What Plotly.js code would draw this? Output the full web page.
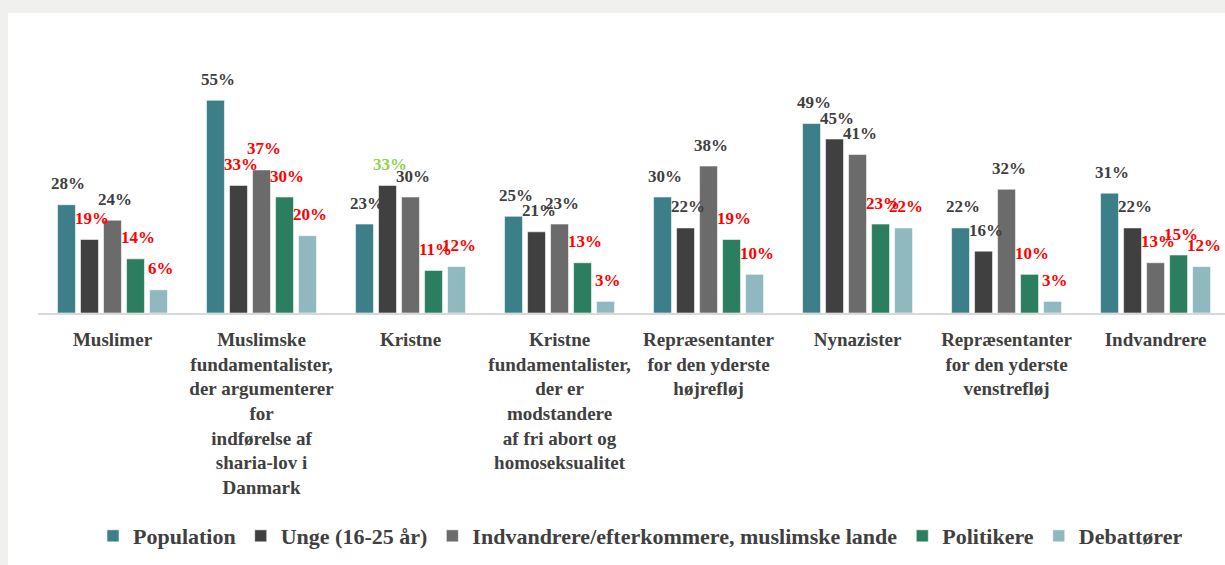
<!DOCTYPE html>
<html>
<head>
<meta charset="utf-8">
<script src="https://cdn.plot.ly/plotly-3.0.1.min.js"></script>
<style>
  html, body { margin: 0; padding: 0; background: #f0f0ef; }
  #chart { margin-left: 8px; margin-top: 13px; width: 1217px; height: 552px; background: #ffffff; }
</style>
</head>
<body>
<div id="chart"></div>
<script>
// ---- data ----
const categories = [
  "Muslimer",
  "Muslimske<br>fundamentalister,<br>der argumenterer<br>for<br>indførelse af<br>sharia-lov i<br>Danmark",
  "Kristne",
  "Kristne<br>fundamentalister,<br>der er<br>modstandere<br>af fri abort og<br>homoseksualitet",
  "Repræsentanter<br>for den yderste<br>højrefløj",
  "Nynazister",
  "Repræsentanter<br>for den yderste<br>venstrefløj",
  "Indvandrere"
];
const seriesNames = ["Population", "Unge (16-25 år)", "Indvandrere/efterkommere, muslimske lande", "Politikere", "Debattører"];
const population   = [28, 55, 23, 25, 30, 49, 22, 31];
const unge         = [19, 33, 33, 21, 22, 45, 16, 22];
const indvandrere  = [24, 37, 30, 23, 38, 41, 32, 13];
const politikere   = [14, 30, 11, 13, 19, 23, 10, 15];
const debattoerer  = [6, 20, 12, 3, 10, 22, 3, 12];
// label colour keys: d = dark, r = red, g = green
const populationLabel  = ["d","d","d","d","d","d","d","d"];
const ungeLabel        = ["r","r","g","d","d","d","d","d"];
const indvandrereLabel = ["d","r","d","d","d","d","d","r"];
const politikereLabel  = ["r","r","r","r","r","r","r","r"];
const debattoererLabel = ["r","r","r","r","r","r","r","r"];

// ---- styles ----
const barColors = ["#3d7f89", "#404040", "#6b6b6b", "#2c7e60", "#8fb8bf"];
const labelColorMap = { d: "#404040", r: "#ff0000", g: "#92d050" };
const FAMILY = "Liberation Serif";
const bargap = 0.228;

const values = [population, unge, indvandrere, politikere, debattoerer];
const labels = [populationLabel, ungeLabel, indvandrereLabel, politikereLabel, debattoererLabel];
const xIdx = categories.map((c, i) => i);

const traces = values.map((vals, j) => ({
  type: "bar",
  name: seriesNames[j],
  x: xIdx,
  y: vals,
  marker: { color: barColors[j], line: { color: "rgba(255,255,255,0.55)", width: 1 } },
  hoverinfo: "skip"
}));

const n = values.length;
const slot = (1 - bargap) / n;
const annotations = [];
values.forEach((vals, j) => {
  vals.forEach((v, i) => {
    annotations.push({
      x: i + (j - (n - 1) / 2) * slot,
      y: v,
      xref: "x", yref: "y",
      text: v + "%",
      showarrow: false,
      yanchor: "middle",
      xanchor: "center",
      yshift: 21,
      xshift: 2,
      font: { family: FAMILY, size: 17, weight: "bold", color: labelColorMap[labels[j][i]] }
    });
  });
});

const layout = {
  width: 1217,
  height: 552,
  font: { family: FAMILY, weight: "bold", color: "#404040" },
  paper_bgcolor: "#ffffff",
  plot_bgcolor: "#ffffff",
  margin: { l: 30, r: 0, t: 68, b: 252 },
  barmode: "group",
  bargap: bargap,
  bargroupgap: 0.22,
  showlegend: true,
  legend: {
    orientation: "h",
    x: 0.5076, xanchor: "center",
    yref: "container", y: 0.0525, yanchor: "middle",
    font: { family: FAMILY, size: 22, weight: "bold", color: "#404040" },
    itemwidth: 30,
    traceorder: "normal"
  },
  xaxis: {
    type: "linear",
    range: [-0.5, 7.466],
    tickmode: "array",
    tickvals: xIdx,
    ticktext: categories,
    ticks: "",
    ticklabelstandoff: 8,
    showgrid: false,
    zeroline: false,
    showline: true,
    linecolor: "#d9d9d9",
    linewidth: 2,
    tickfont: { family: FAMILY, size: 19, weight: "bold", color: "#404040" },
    fixedrange: true
  },
  yaxis: {
    range: [0, 60],
    visible: false,
    showgrid: false,
    zeroline: false,
    fixedrange: true
  },
  annotations: annotations
};

Plotly.newPlot("chart", traces, layout, { displayModeBar: false });
</script>
</body>
</html>
